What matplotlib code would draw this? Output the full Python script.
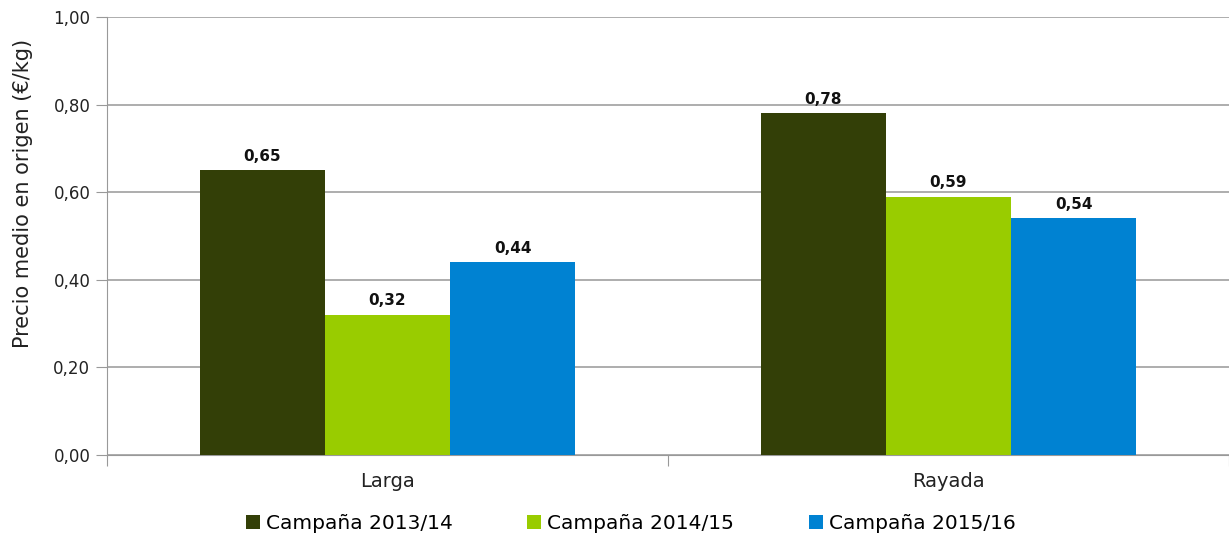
import matplotlib.pyplot as plt
import numpy as np

plt.rcParams["font.family"] = ["DejaVu Sans"]

categories = ["Larga", "Rayada"]
series = ["Campaña 2013/14", "Campaña 2014/15", "Campaña 2015/16"]
v2013 = [0.65, 0.78]
v2014 = [0.32, 0.59]
v2015 = [0.44, 0.54]
colors = ["#333F07", "#99CC00", "#0082D2"]

fig = plt.figure(figsize=(12.29, 5.4), dpi=100)
ax = fig.add_axes([107 / 1229, 1 - 455 / 540, 1122 / 1229, 438 / 540])

x = np.arange(len(categories))
w = 0.223
for i, (vals, lab, c) in enumerate(zip([v2013, v2014, v2015], series, colors)):
    bars = ax.bar(x + (i - 1) * w, vals, w, color=c, label=lab, zorder=3)
    for b, v in zip(bars, vals):
        ax.text(b.get_x() + b.get_width() / 2, v + 0.015, f"{v:.2f}".replace(".", ","),
                ha="center", va="bottom", fontsize=11, fontweight="bold", color="#111111")

ax.set_xlim(-0.5, 1.5)
ax.set_ylim(0, 1.0)
yt = np.arange(0, 1.01, 0.2)
ax.set_yticks(yt)
ax.set_yticklabels([f"{t:.2f}".replace(".", ",") for t in yt], fontsize=12, color="#222222")
ax.set_xticks([-0.5, 0.5, 1.5])
ax.set_xticklabels([])
ax.set_xticks(x, minor=True)
ax.set_xticklabels(categories, minor=True, fontsize=14, color="#222222")
ax.tick_params(axis="x", which="minor", length=0, pad=12)
ax.tick_params(axis="x", which="major", length=8, color="#999999")
ax.tick_params(axis="y", length=8, color="#999999", pad=4)
ax.grid(axis="y", color="#A0A0A0", linewidth=1.2, zorder=0)
for s in ["top", "right"]:
    ax.spines[s].set_visible(False)
ax.spines["left"].set_color("#999999")
ax.spines["bottom"].set_color("#999999")
ax.set_ylabel("Precio medio en origen (€/kg)", fontsize=15, color="#222222")
ax.yaxis.set_label_coords(-0.066, 0.598)

fig.legend(loc="lower center", bbox_to_anchor=(0.513, -0.02), ncol=3, frameon=False,
           fontsize=14.5, handlelength=0.7, handleheight=0.7, handletextpad=0.3, columnspacing=3.7)

fig.savefig("out.png", dpi=100)
